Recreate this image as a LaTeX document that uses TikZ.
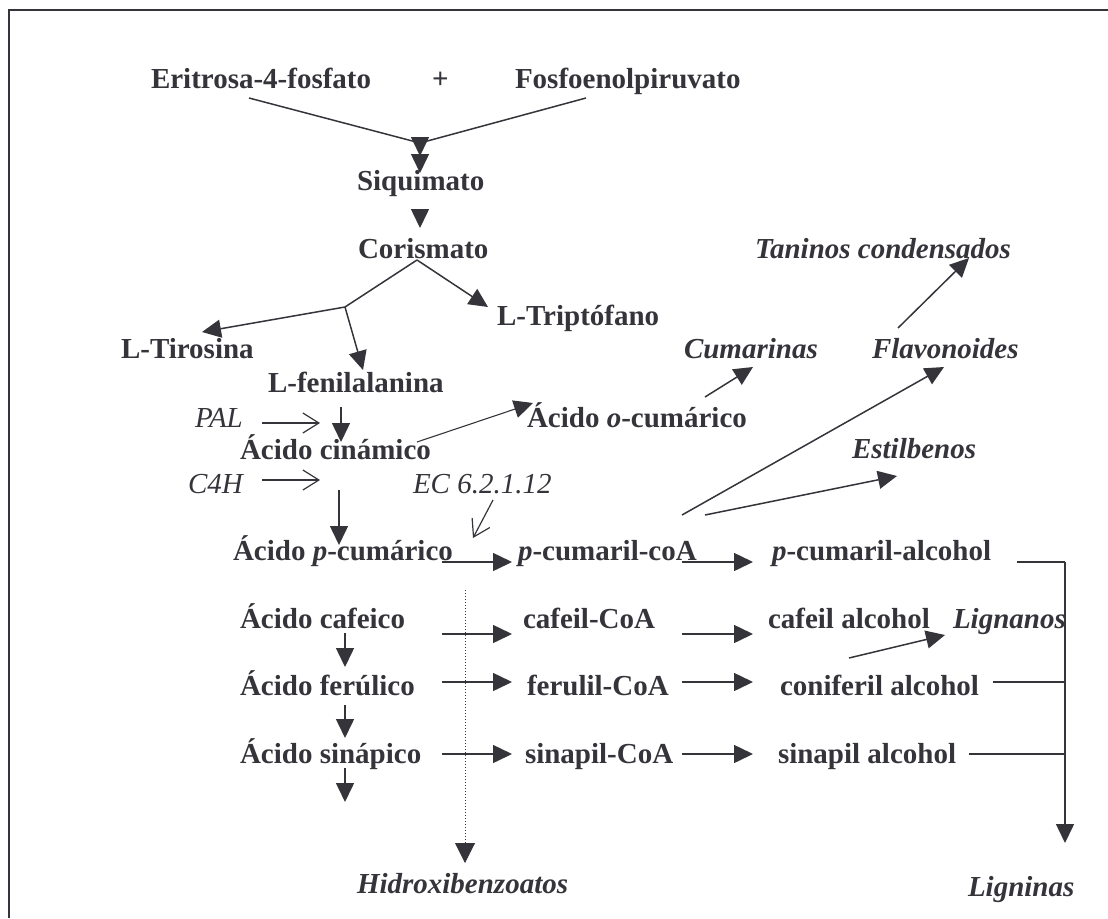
\documentclass[tikz,border=0pt]{standalone}
\usepackage{fontspec}
\setmainfont{Liberation Serif}
\usetikzlibrary{arrows.meta}
\definecolor{ink}{RGB}{52,52,58}
\begin{document}
\begin{tikzpicture}[x=1pt,y=-1pt,
  every node/.style={inner sep=0pt, outer sep=0pt, anchor=base west, text=ink},
  lbl/.style={font=\fontsize{29}{34}\selectfont\bfseries},
  prod/.style={font=\fontsize{29}{34}\selectfont\bfseries\itshape},
  enz/.style={font=\fontsize{29}{34}\selectfont\itshape},
  ln/.style={draw=ink, line width=1.5pt},
  arr/.style={ln, -{Triangle[length=19pt,width=18pt]}},
  thinarr/.style={draw=ink, line width=1.1pt, -{Triangle[length=19pt,width=18pt]}},
  barb/.style={draw=ink, line width=1.2pt, -{Straight Barb[length=16pt,width=20pt]}},
  dots/.style={draw=ink, line width=1pt, dotted, -{Triangle[length=20pt,width=20pt]}}]
\useasboundingbox (0,0) rectangle (1108,918);

% frame
\draw[draw=ink, line width=2.4pt] (9,918) -- (9,10) -- (1108,10);

% precursors
\node[lbl] (eri)  at (151,88) {Eritrosa-4-fosfato};
\node[lbl] (plus) at (432,88) {+};
\node[lbl] (fos)  at (515,88) {Fosfoenolpiruvato};
\node[lbl] (siq)  at (357,190) {Siquimato};
\node[lbl] (cor)  at (358,258) {Corismato};
\node[lbl] (tir)  at (121,358) {L-Tirosina};
\node[lbl] (trp)  at (497,325) {L-Triptófano};
\node[lbl] (phe)  at (268,392) {L-fenilalanina};
\node[lbl] (cin)  at (240,459) {Ácido cinámico};
\node[lbl] (ocu)  at (527,427) {Ácido \textit{o}-cumárico};

% enzymes
\node[enz] (pal) at (195,427) {PAL};
\node[enz] (c4h) at (188,493) {C4H};
\node[enz] (ec)  at (413,493) {EC 6.2.1.12};

% products in italics
\node[prod] (tan) at (755,258) {Taninos condensados};
\node[prod] (cum) at (684,358) {Cumarinas};
\node[prod] (fla) at (872,358) {Flavonoides};
\node[prod] (est) at (852,458) {Estilbenos};
\node[prod] (lgn) at (953,628) {Lignanos};
\node[prod] (hid) at (357,893) {Hidroxibenzoatos};
\node[prod] (lig) at (968,896) {Ligninas};

% acids, CoA esters and alcohols
\node[lbl] (pcu)  at (233,560) {Ácido \textit{p}-cumárico};
\node[lbl] (pcoa) at (518,560) {\textit{p}-cumaril-coA};
\node[lbl] (palc) at (772,560) {\textit{p}-cumaril-alcohol};
\node[lbl] (caf)  at (240,628) {Ácido cafeico};
\node[lbl] (cafc) at (523,628) {cafeil-CoA};
\node[lbl] (cafa) at (768,628) {cafeil alcohol};
\node[lbl] (fer)  at (240,695) {Ácido ferúlico};
\node[lbl] (ferc) at (527,695) {ferulil-CoA};
\node[lbl] (cona) at (780,695) {coniferil alcohol};
\node[lbl] (sin)  at (240,763) {Ácido sinápico};
\node[lbl] (sinc) at (525,763) {sinapil-CoA};
\node[lbl] (sina) at (778,763) {sinapil alcohol};

% junction points
\coordinate (join)  at (420,143);
\coordinate (split) at (345,307);
\coordinate (lgtop) at (1065,562);
\coordinate (lgcon) at (1065,682);
\coordinate (lgsin) at (1065,754);
\coordinate (sinend) at (345,802);

% shikimate part
\draw[ln] (249,98) -- (join);
\draw[ln] (586,98) -- (join);
\draw[arr] (420,140) -- (420,156);
\draw[arr] (420,152) -- (420,173);
\draw[arr] (420,212) -- (420,228);
\draw[ln] (417,260) -- (split);
\draw[arr] (417,260) -- (488,307);
\draw[arr] (split) -- (202,332);
\draw[arr] (split) -- (363,370);

% phenylpropanoid entry
\draw[barb] (262,423) -- (320,423);
\draw[arr] (341,407) -- (341,442);
\draw[thinarr] (417,442) -- (533,403);
\draw[arr] (705,397) -- (753,367);
\draw[barb] (262,480) -- (320,480);
\draw[arr] (339,490) -- (339,545);
\draw[barb] (493,500) -- (473,538);

% branches from p-cumaril-coA
\draw[arr] (682,515) -- (944,367);
\draw[arr] (705,515) -- (897,476);
\draw[arr] (898,328) -- (969,258);
\draw[arr] (849,658) -- (945,635);

% acids to CoA esters to alcohols
\draw[arr] (442,562) -- (512,562);
\draw[arr] (682,562) -- (753,562);
\draw[arr] (442,634) -- (512,634);
\draw[arr] (682,634) -- (753,634);
\draw[arr] (442,682) -- (512,682);
\draw[arr] (682,682) -- (753,682);
\draw[arr] (442,754) -- (512,754);
\draw[arr] (682,754) -- (753,754);

% hydroxylation / methylation sequence
\draw[arr] (345,633) -- (345,667);
\draw[arr] (345,705) -- (345,738);
\draw[arr] (345,768) -- (sinend);

% hydroxybenzoates
\draw[dots] (465,590) -- (465,863);

% lignin collector
\draw[ln] (1017,562) -- (lgtop);
\draw[ln] (993,682) -- (lgcon);
\draw[ln] (969,754) -- (lgsin);
\draw[arr] (lgtop) -- (1065,843);
\end{tikzpicture}
\end{document}
